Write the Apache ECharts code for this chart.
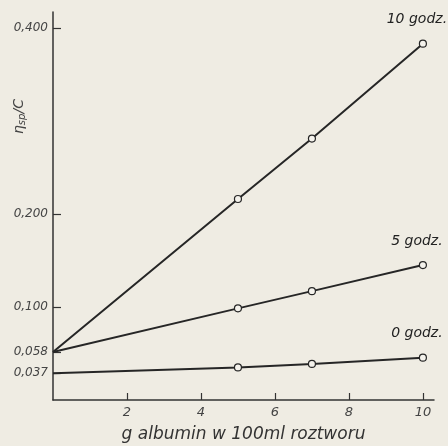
<!DOCTYPE html>
<html>
<head>
<meta charset="utf-8">
<style>
  html, body { margin: 0; padding: 0; background: #efece3; }
  #cht { width: 448px; height: 446px; }
</style>
<script src="https://cdn.jsdelivr.net/npm/echarts@6/dist/echarts.min.js"></script>
</head>
<body>
<div id="cht"></div>
<script>
const xValues = [0, 5, 7, 10];
const godz10 = [0.0516, 0.216, 0.281, 0.383];
const godz5 = [0.0516, 0.0985, 0.117, 0.145];
const godz0 = [0.0287, 0.035, 0.0388, 0.0455];
const seriesNames = ['10 godz.', '5 godz.', '0 godz.'];
const yTickValues = [0.0287, 0.0516, 0.1, 0.2, 0.4];
const yTickLabels = ['0,037', '0,058', '0,100', '0,200', '0,400'];
const xTicks = [2, 4, 6, 8, 10];

const cht = echarts.init(document.getElementById('cht'));

const ink = '#262626';
const font = 'DejaVu Sans';

function makeSeries(name, values) {
  return {
    name,
    type: 'line',
    data: xValues.map((x, i) => ({
      value: [x, values[i]],
      symbol: i === 0 ? 'none' : 'circle',
      label: i === xValues.length - 1 ? {
        show: true,
        formatter: name,
        position: 'top',
        offset: [-6, -8],
        color: '#222',
        fontStyle: 'italic',
        fontFamily: font,
        fontSize: 14,
      } : { show: false },
    })),
    symbolSize: 7,
    itemStyle: { color: '#f4f2ec', borderColor: ink, borderWidth: 1.2 },
    lineStyle: { color: ink, width: 2 },
    animation: false,
    z: 3,
  };
}

const option = {
  backgroundColor: '#efece3',
  animation: false,
  grid: { left: 53, right: 14, top: 12, bottom: 46, outerBoundsMode: 'none', containLabel: false },
  xAxis: {
    type: 'value',
    min: 0,
    max: 10.3,
    interval: 2,
    name: 'g albumin w 100ml roztworu',
    nameLocation: 'middle',
    nameGap: 26,
    nameTextStyle: { color: '#333', fontStyle: 'italic', fontFamily: font, fontSize: 17 },
    axisLine: { lineStyle: { color: '#333', width: 1.5 } },
    axisTick: { inside: true, length: 7, lineStyle: { color: '#333', width: 1.2 }, customValues: xTicks },
    axisLabel: {
      customValues: xTicks,
      color: '#444', fontStyle: 'italic', fontFamily: font, fontSize: 13, margin: 6,
    },
    splitLine: { show: false },
  },
  yAxis: {
    type: 'value',
    min: 0,
    max: 0.417,
    axisLine: { show: true, lineStyle: { color: '#333', width: 1.5 } },
    axisTick: { show: true, inside: true, length: 8, lineStyle: { color: '#333', width: 1.2 }, customValues: yTickValues },
    axisLabel: {
      customValues: yTickValues,
      formatter: (v) => {
        const i = yTickValues.findIndex((t) => Math.abs(t - v) < 1e-6);
        return i >= 0 ? yTickLabels[i] : '';
      },
      color: '#444', fontStyle: 'italic', fontFamily: font, fontSize: 12, margin: 5,
    },
    splitLine: { show: false },
  },
  graphic: [{
    type: 'text',
    x: 11,
    y: 134,
    rotation: Math.PI / 2,
    style: {
      text: '{a|η}{b|sp}{a|/C}',
      fill: '#444',
      rich: {
        a: { fontSize: 14, fontStyle: 'italic', fontFamily: font, fill: '#444' },
        b: { fontSize: 10, fontStyle: 'italic', fontFamily: font, fill: '#444', verticalAlign: 'bottom', padding: [6, 0, 0, 0] },
      },
    },
  }],
  series: [
    makeSeries(seriesNames[0], godz10),
    makeSeries(seriesNames[1], godz5),
    makeSeries(seriesNames[2], godz0),
  ],
};

cht.setOption(option);
window.onresize = () => cht.resize();
</script>
</body>
</html>
